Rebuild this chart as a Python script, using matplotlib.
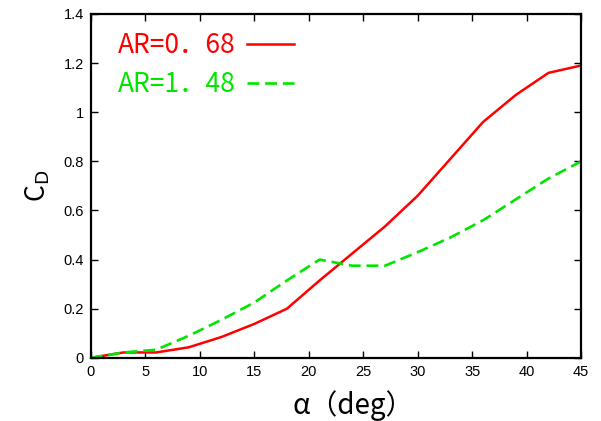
import matplotlib
matplotlib.use("Agg")
import matplotlib.pyplot as plt

# angle of attack (deg) and drag coefficient for two aspect ratios
alpha = [0, 3, 6, 9, 12, 15, 18, 21, 24, 27, 30, 33, 36, 39, 42, 45]
cd_068 = [0.0, 0.022, 0.022, 0.043, 0.085, 0.138, 0.20, 0.315, 0.425, 0.535,
          0.66, 0.81, 0.96, 1.07, 1.16, 1.19]
cd_148 = [0.0, 0.022, 0.033, 0.09, 0.155, 0.225, 0.315, 0.40, 0.375, 0.375,
          0.43, 0.49, 0.56, 0.645, 0.73, 0.80]

jp = ["Noto Sans CJK JP", "DejaVu Sans"]
plt.rcParams["font.family"] = ["Liberation Sans", "DejaVu Sans"]

fig = plt.figure(figsize=(6.01, 4.21), dpi=100)
ax = fig.add_axes([0.151, 0.150, 0.816, 0.817])

ax.plot(alpha, cd_068, color="#ff0000", lw=1.8, label="AR=0．68")
ax.plot(alpha, cd_148, color="#00e600", lw=1.9, ls=(0, (4.5, 2.2)), label="AR=1．48")

ax.set_xlim(0, 45)
ax.set_ylim(0, 1.4)
ax.set_xticks(range(0, 46, 5))
ax.set_yticks([0, 0.2, 0.4, 0.6, 0.8, 1.0, 1.2, 1.4])
ax.set_yticklabels(["0", "0.2", "0.4", "0.6", "0.8", "1", "1.2", "1.4"])
ax.tick_params(direction="in", length=5, width=1, top=True, right=True,
               labelsize=10.5, pad=5)
for s in ax.spines.values():
    s.set_linewidth(1.6)

ax.set_xlabel("α（deg）", fontsize=20, family=jp)
ax.xaxis.set_label_coords(0.535, -0.093)
ax.set_ylabel("C$_\\mathrm{D}$", fontsize=19, family=jp, labelpad=8)

leg = ax.legend(loc="upper left", frameon=False, markerfirst=False,
                prop={"family": jp, "size": 19}, handlelength=1.75,
                handletextpad=0.45, labelspacing=0.45, borderpad=0,
                borderaxespad=0, bbox_to_anchor=(0.055, 0.947),
                labelcolor="linecolor")

fig.savefig("out.png", dpi=100)
